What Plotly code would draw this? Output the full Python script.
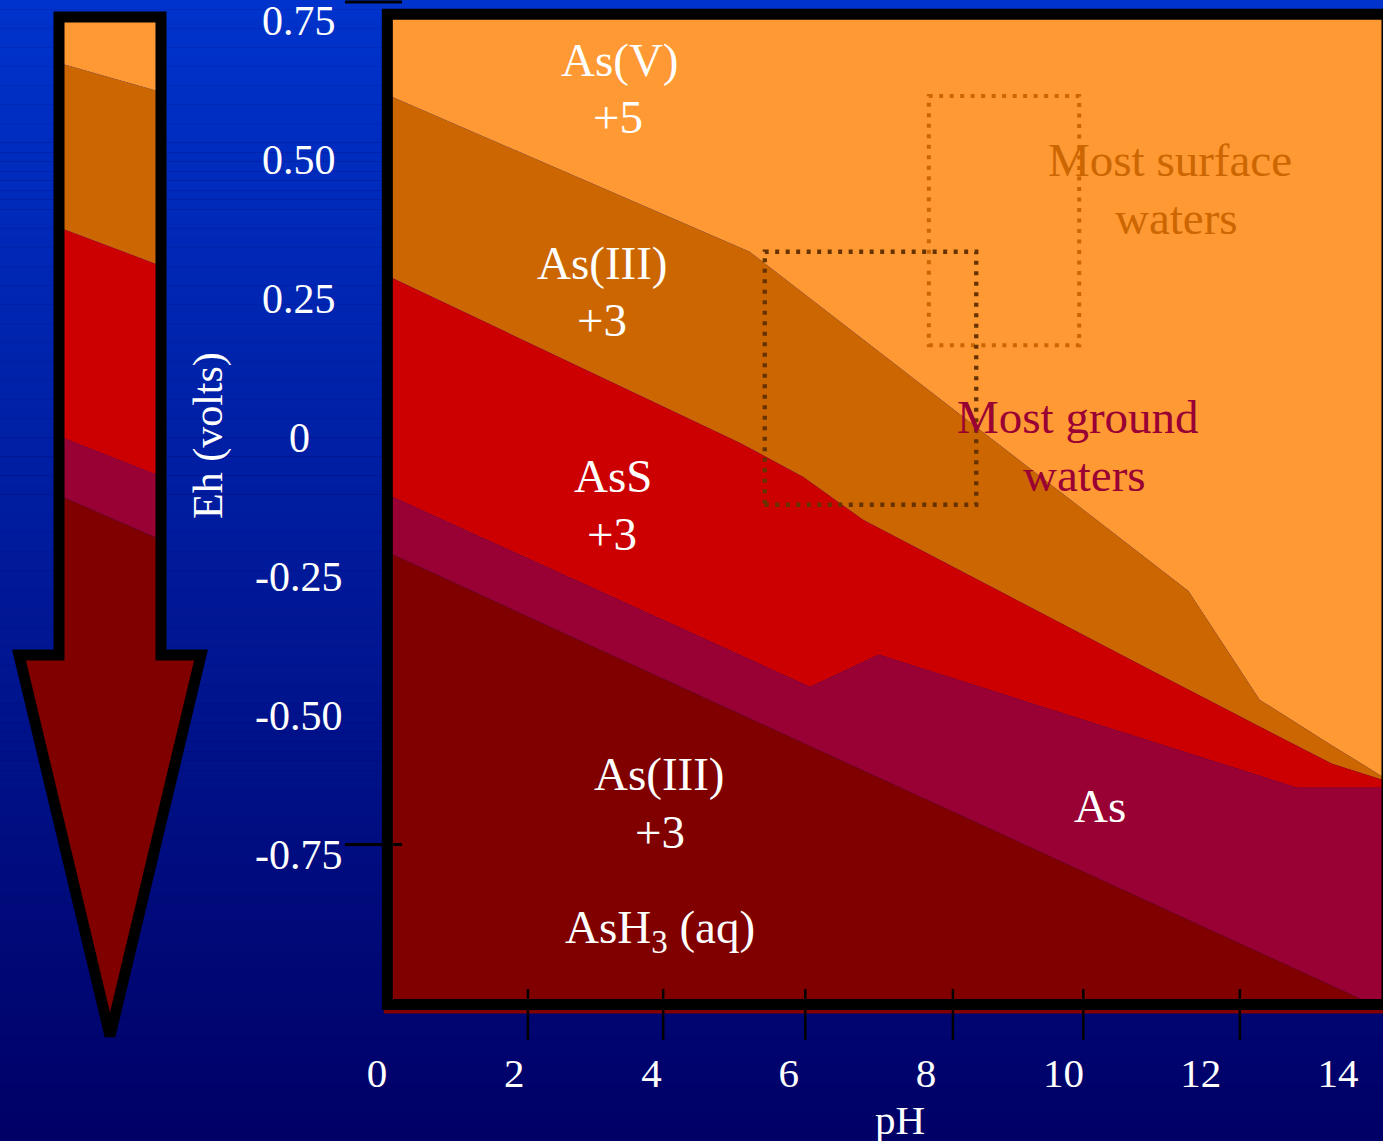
import plotly.graph_objects as go

# ---------------- data (pH, Eh in volts) ----------------
# boundary lines between the stability fields
ph_as5_as3 = [0.10, 5.43, 11.82, 12.86, 13.90, 14.70]
eh_as5_as3 = [0.620, 0.335, -0.275, -0.471, -0.552, -0.613]
ph_as3_ass = [0.10, 5.29, 6.21, 7.08, 11.26, 13.91, 14.70]
eh_as3_ass = [0.295, -0.009, -0.070, -0.147, -0.417, -0.586, -0.617]
ph_ass_as = [0.10, 6.31, 7.31, 13.40, 14.70]
eh_ass_as = [-0.099, -0.448, -0.390, -0.629, -0.629]
ph_as_ash3 = [0.10, 14.70]
eh_as_ash3 = [-0.202, -1.030]
eh_top = 0.770
eh_bottom = -1.035

field_names = ["As(V) +5", "As(III) +3", "AsS +3", "As", "As(III) +3 AsH3 (aq)"]
field_colors = ["#FF9933", "#CC6600", "#CC0000", "#990033", "#800000"]

# field labels
label_text = ["As(V)", "+5", "As(III)", "+3", "AsS", "+3", "As(III)", "+3",
              "AsH<sub>3</sub> (aq)", "As"]
label_ph = [3.54, 3.51, 3.29, 3.28, 3.44, 3.43, 4.12, 4.12, 4.12, 10.53]
label_eh = [0.680, 0.577, 0.315, 0.212, -0.068, -0.173, -0.604, -0.709, -0.885, -0.662]

# typical water ranges (dotted boxes)
ground_ph = [5.65, 8.73]
ground_eh = [-0.120, 0.335]
surface_ph = [8.04, 10.23]
surface_eh = [0.167, 0.615]
water_text = ["Most surface", "waters", "Most ground", "waters"]
water_ph = [11.55, 11.64, 10.21, 10.31]
water_eh = [0.500, 0.396, 0.038, -0.067]

# axes
x_tick_vals = [0, 2, 4, 6, 8, 10, 12, 14]
x_tick_text = ["0", "2", "4", "6", "8", "10", "12", "14"]
y_tick_vals = [0.75, 0.50, 0.25, 0, -0.25, -0.50, -0.75]
y_tick_text = ["0.75", "0.50", "0.25", "0", "-0.25", "-0.50", "-0.75"]
frame_tick_ph = [2.20, 4.17, 6.24, 8.39, 10.29, 12.57]
frame_tick_eh = [0.784, -0.731]

# ---------------- layout constants ----------------
W, H = 1383, 1141
X_RANGE = [-5.490, 14.655]
Y_RANGE = [-1.2644, 0.7878]
SERIF = "Liberation Serif, Times New Roman, serif"


def px(x):
    return x / W


def py(y):
    return 1 - y / H


fig = go.Figure()

# stability fields
bounds = [
    (ph_as5_as3, eh_as5_as3),
    (ph_as3_ass, eh_as3_ass),
    (ph_ass_as, eh_ass_as),
    (ph_as_ash3, eh_as_ash3),
]
top = ([ph_as5_as3[0], ph_as5_as3[-1]], [eh_top, eh_top])
bottom = ([ph_as_ash3[0], ph_as_ash3[-1]], [eh_bottom, eh_bottom])
uppers = [top] + bounds
lowers = bounds + [bottom]
for name, color, up, lo in zip(field_names, field_colors, uppers, lowers):
    xs = list(up[0]) + list(lo[0])[::-1] + [up[0][0]]
    ys = list(up[1]) + list(lo[1])[::-1] + [up[1][0]]
    fig.add_trace(go.Scatter(x=xs, y=ys, fill="toself", fillcolor=color,
                             mode="lines", line=dict(width=0, color=color),
                             name=name, hoverinfo="name", showlegend=False))

shapes = []
# blue gradient background
N = 120
c0, c1 = (0, 51, 204), (0, 0, 102)
for i in range(N):
    t = i / (N - 1)
    col = "rgb(%d,%d,%d)" % tuple(round(a + (b - a) * t) for a, b in zip(c0, c1))
    shapes.append(dict(type="rect", xref="paper", yref="paper", layer="below",
                       x0=0, x1=1, y0=1 - (i + 1.02) / N, y1=1 - i / N,
                       fillcolor=col, line=dict(width=0)))

# frame
shapes.append(dict(type="rect", xref="x", yref="y", layer="above",
                   x0=0.152, x1=14.713, y0=-1.019, y1=0.762,
                   line=dict(color="black", width=11), fillcolor="rgba(0,0,0,0)"))
# original tick marks
for v in frame_tick_ph:
    shapes.append(dict(type="line", xref="x", yref="y", layer="above",
                       x0=v, x1=v, y0=-0.991, y1=-1.083,
                       line=dict(color="black", width=2.5)))
for v in frame_tick_eh:
    shapes.append(dict(type="line", xref="x", yref="y", layer="above",
                       x0=-0.465, x1=0.366, y0=v, y1=v,
                       line=dict(color="black", width=3)))

# dotted water boxes
shapes.append(dict(type="rect", xref="x", yref="y", layer="above",
                   x0=surface_ph[0], x1=surface_ph[1], y0=surface_eh[0], y1=surface_eh[1],
                   line=dict(color="#CC6600", width=4, dash="4px,6.5px")))
shapes.append(dict(type="rect", xref="x", yref="y", layer="above",
                   x0=ground_ph[0], x1=ground_ph[1], y0=ground_eh[0], y1=ground_eh[1],
                   line=dict(color="#663300", width=4.3, dash="4px,6.5px")))


# decorative arrow on the left (pixel geometry)
def path(pts):
    s = "M %f %f" % (px(pts[0][0]), py(pts[0][1]))
    for x, y in pts[1:]:
        s += " L %f %f" % (px(x), py(y))
    return s + " Z"


L, R, T = 59, 161, 17
band_lines = [(62.9, 92.1), (227.4, 265.9), (436.4, 476.6), (495.3, 539.7)]
edges = [(T, T)] + band_lines
for k in range(4):
    a, b = edges[k], edges[k + 1]
    pts = [(L, a[0]), (R, a[1]), (R, b[1]), (L, b[0])]
    shapes.append(dict(type="path", xref="paper", yref="paper", layer="above",
                       path=path(pts), fillcolor=field_colors[k], line=dict(width=0)))
last = band_lines[-1]
pts = [(L, last[0]), (R, last[1]), (R, 655), (201, 655), (110, 1036), (19, 655), (L, 655)]
shapes.append(dict(type="path", xref="paper", yref="paper", layer="above",
                   path=path(pts), fillcolor=field_colors[4], line=dict(width=0)))
outline = [(L, T), (R, T), (R, 655), (201, 655), (110, 1036), (19, 655), (L, 655)]
shapes.append(dict(type="path", xref="paper", yref="paper", layer="above",
                   path=path(outline), fillcolor="rgba(0,0,0,0)",
                   line=dict(color="black", width=11)))

annotations = []
for t, x, y in zip(label_text, label_ph, label_eh):
    annotations.append(dict(x=x, y=y, xref="x", yref="y", text=t, showarrow=False,
                            xanchor="center", yanchor="middle",
                            font=dict(family=SERIF, size=47, color="white")))
water_colors = ["#CC6600", "#CC6600", "#990033", "#990033"]
for t, x, y, c in zip(water_text, water_ph, water_eh, water_colors):
    annotations.append(dict(x=x, y=y, xref="x", yref="y", text=t, showarrow=False,
                            xanchor="center", yanchor="middle",
                            font=dict(family=SERIF, size=47, color=c)))
for t, v in zip(y_tick_text, y_tick_vals):
    annotations.append(dict(x=px(299), y=v, xref="paper", yref="y", text=t,
                            showarrow=False, xanchor="center", yanchor="middle",
                            font=dict(family=SERIF, size=42, color="white")))
annotations.append(dict(x=px(208), y=py(436), xref="paper", yref="paper",
                        text="Eh (volts)", textangle=-90, showarrow=False,
                        xanchor="center", yanchor="middle",
                        font=dict(family=SERIF, size=42, color="white")))
annotations.append(dict(x=px(900), y=py(1120), xref="paper", yref="paper",
                        text="pH", showarrow=False, xanchor="center", yanchor="middle",
                        font=dict(family=SERIF, size=41, color="white")))

fig.update_layout(
    width=W, height=H,
    margin=dict(l=0, r=0, t=0, b=0),
    paper_bgcolor="#000066",
    plot_bgcolor="rgba(0,0,0,0)",
    showlegend=False,
    shapes=shapes,
    annotations=annotations,
    xaxis=dict(range=X_RANGE, domain=[0, 1], anchor="free", position=(H - 1045) / H,
               tickvals=x_tick_vals, ticktext=x_tick_text, ticks="",
               showgrid=False, zeroline=False, showline=False,
               tickfont=dict(family=SERIF, size=41, color="white")),
    yaxis=dict(range=Y_RANGE, domain=[0, 1], showticklabels=False, ticks="",
               showgrid=False, zeroline=False, showline=False),
)

fig.write_html("out.html", config={"displayModeBar": False},
               post_script="document.body.style.margin='0';"
                           "document.body.style.overflow='hidden';"
                           "document.body.style.background='#000066';")
